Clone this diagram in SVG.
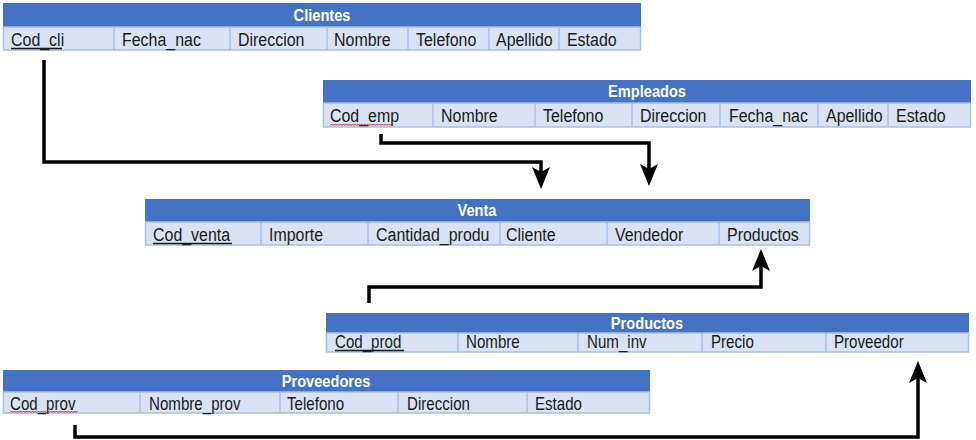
<svg xmlns="http://www.w3.org/2000/svg" width="976" height="440" viewBox="0 0 976 440">
<style>
.hd{fill:#4472C4}
.rw{fill:#D9E2F3;stroke:#A9BFE6;stroke-width:1.5}
.dv{stroke:#A9BFE6;stroke-width:1.5}
.ht{font-family:"Liberation Sans",Arial,sans-serif;font-weight:bold;font-size:17px;fill:#fff;text-anchor:middle;transform-box:fill-box;transform-origin:center;transform:scaleX(0.86)}
.ct{font-family:"Liberation Sans",Arial,sans-serif;font-size:19px;fill:#1a1a1a;transform-box:fill-box;transform-origin:0 0;transform:scaleX(0.84)}
.sm{font-size:18px}
.ul{stroke:#1a1a1a;stroke-width:1.3}
.sq{fill:none;stroke:#d02020;stroke-width:1}
.cn{fill:none;stroke:#000;stroke-width:3.5}
</style>
<defs>
<marker id="ah" viewBox="0 0 22 18" refX="11" refY="9" markerWidth="22" markerHeight="18" markerUnits="userSpaceOnUse" orient="auto">
<path d="M0,0 L22,9 L0,18 L5,9 Z" fill="#000"/>
</marker>
</defs>
<g id="clientes">
<rect class="hd" x="3" y="3" width="638" height="24"/>
<rect class="rw" x="3.5" y="27" width="637" height="23"/>
<path class="dv" d="M114,27V50M230,27V50M327,27V50M408,27V50M489,27V50M559,27V50"/>
<text class="ht" x="322" y="21">Clientes</text>
<text class="ct" x="11" y="46">Cod_cli</text>
<line class="ul" x1="11" y1="48.5" x2="62" y2="48.5"/>
<text class="ct" x="122" y="46">Fecha_nac</text>
<text class="ct" x="238" y="46">Direccion</text>
<text class="ct" x="334" y="46">Nombre</text>
<text class="ct" x="416" y="46">Telefono</text>
<text class="ct" x="496" y="46">Apellido</text>
<text class="ct" x="567" y="46">Estado</text>
</g>
<g id="empleados">
<rect class="hd" x="323" y="80" width="648" height="23"/>
<rect class="rw" x="323.5" y="103" width="647" height="24"/>
<path class="dv" d="M433,103V127M535,103V127M632,103V127M720,103V127M818,103V127M888,103V127"/>
<text class="ht" x="647" y="97">Empleados</text>
<text class="ct" x="330" y="122">Cod_emp</text>
<path class="sq" d="M330,125.5l1.5,-1.5l1.5,1.5l1.5,-1.5l1.5,1.5l1.5,-1.5l1.5,1.5l1.5,-1.5l1.5,1.5l1.5,-1.5l1.5,1.5l1.5,-1.5l1.5,1.5l1.5,-1.5l1.5,1.5l1.5,-1.5l1.5,1.5l1.5,-1.5l1.5,1.5l1.5,-1.5l1.5,1.5l1.5,-1.5l1.5,1.5l1.5,-1.5l1.5,1.5l1.5,-1.5l1.5,1.5l1.5,-1.5l1.5,1.5l1.5,-1.5l1.5,1.5l1.5,-1.5l1.5,1.5l1.5,-1.5l1.5,1.5l1.5,-1.5l1.5,1.5l1.5,-1.5l1.5,1.5l1.5,-1.5l1.5,1.5l1.5,-1.5"/>
<text class="ct" x="441" y="122">Nombre</text>
<text class="ct" x="543" y="122">Telefono</text>
<text class="ct" x="640" y="122">Direccion</text>
<text class="ct" x="729" y="122">Fecha_nac</text>
<text class="ct" x="826" y="122">Apellido</text>
<text class="ct" x="896" y="122">Estado</text>
</g>
<g id="venta">
<rect class="hd" x="145" y="199" width="665" height="23"/>
<rect class="rw" x="145.5" y="222" width="664" height="23"/>
<path class="dv" d="M261,222V245M368,222V245M500,222V245M607,222V245M719,222V245"/>
<text class="ht" x="477" y="216">Venta</text>
<text class="ct" x="153" y="241">Cod_venta</text>
<line class="ul" x1="153" y1="243.5" x2="232" y2="243.5"/>
<text class="ct" x="269" y="241">Importe</text>
<text class="ct" x="376" y="241">Cantidad_produ</text>
<text class="ct" x="506" y="241">Cliente</text>
<text class="ct" x="615" y="241">Vendedor</text>
<text class="ct" x="727" y="241">Productos</text>
</g>
<g id="productos">
<rect class="hd" x="326" y="313" width="643" height="20"/>
<rect class="rw" x="326.5" y="333" width="642" height="19"/>
<path class="dv" d="M458,333V352M578,333V352M702,333V352M826,333V352"/>
<text class="ht" x="647" y="329">Productos</text>
<text class="ct sm" x="335" y="348">Cod_prod</text>
<line class="ul" x1="335" y1="350.5" x2="404" y2="350.5"/>
<text class="ct sm" x="466" y="348">Nombre</text>
<text class="ct sm" x="587" y="348">Num_inv</text>
<text class="ct sm" x="711" y="348">Precio</text>
<text class="ct sm" x="834" y="348">Proveedor</text>
</g>
<g id="proveedores">
<rect class="hd" x="3" y="370" width="647" height="22"/>
<rect class="rw" x="3.5" y="392" width="646" height="21"/>
<path class="dv" d="M140,392V413M280,392V413M398,392V413M527,392V413"/>
<text class="ht" x="326" y="387">Proveedores</text>
<text class="ct sm" x="10" y="410">Cod_prov</text>
<path class="sq" d="M10,412.5l1.5,-1.5l1.5,1.5l1.5,-1.5l1.5,1.5l1.5,-1.5l1.5,1.5l1.5,-1.5l1.5,1.5l1.5,-1.5l1.5,1.5l1.5,-1.5l1.5,1.5l1.5,-1.5l1.5,1.5l1.5,-1.5l1.5,1.5l1.5,-1.5l1.5,1.5l1.5,-1.5l1.5,1.5l1.5,-1.5l1.5,1.5l1.5,-1.5l1.5,1.5l1.5,-1.5l1.5,1.5l1.5,-1.5l1.5,1.5l1.5,-1.5l1.5,1.5l1.5,-1.5l1.5,1.5l1.5,-1.5l1.5,1.5l1.5,-1.5l1.5,1.5l1.5,-1.5l1.5,1.5l1.5,-1.5l1.5,1.5l1.5,-1.5l1.5,1.5l1.5,-1.5l1.5,1.5l1.5,-1.5"/>
<text class="ct sm" x="149" y="410">Nombre_prov</text>
<text class="ct sm" x="287" y="410">Telefono</text>
<text class="ct sm" x="407" y="410">Direccion</text>
<text class="ct sm" x="535" y="410">Estado</text>
</g>
<g id="connectors">
<path class="cn" d="M44,60V162H541V178" marker-end="url(#ah)"/>
<path class="cn" d="M381,134V143H649V175" marker-end="url(#ah)"/>
<path class="cn" d="M369,303V287H761V260" marker-end="url(#ah)"/>
<path class="cn" d="M75,425V437H918V372" marker-end="url(#ah)"/>
</g>
</svg>
